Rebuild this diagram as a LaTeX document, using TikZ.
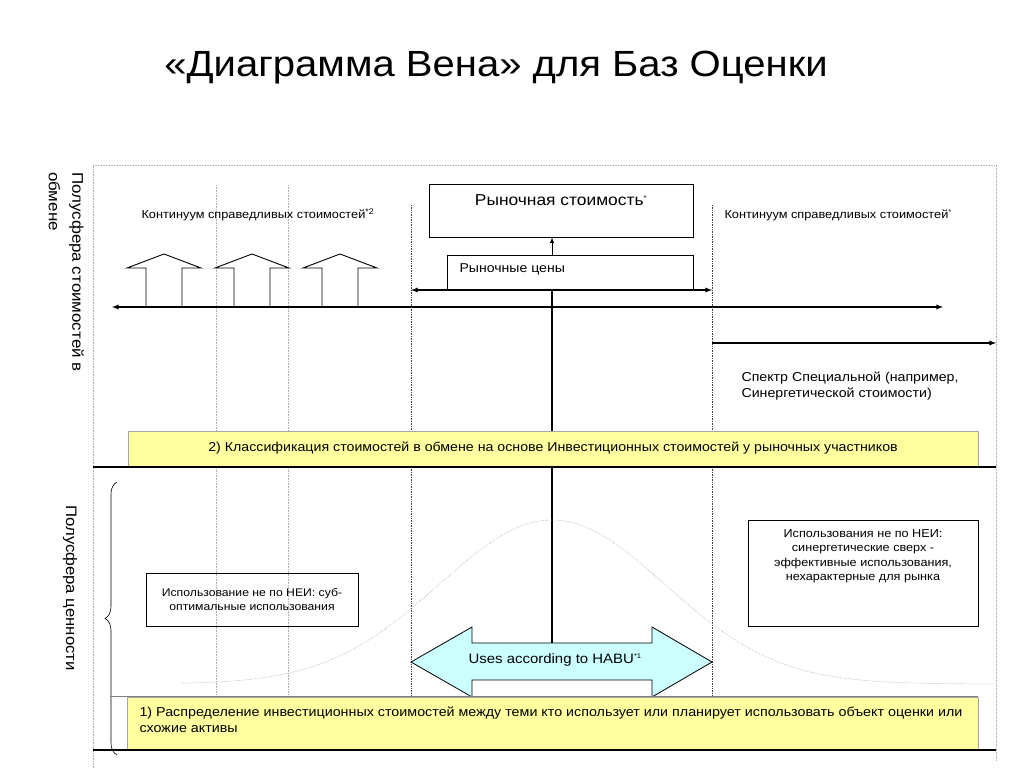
\documentclass[tikz,border=0pt]{standalone}
\usepackage{fontspec}
\setmainfont[FakeStretch=1.1]{Liberation Sans}
\usetikzlibrary{arrows,positioning,calc,decorations.pathreplacing,shapes}

\definecolor{paleyellow}{RGB}{255,255,160}
\definecolor{palecyan}{RGB}{204,255,255}
\definecolor{dotgray}{RGB}{175,175,175}

\newcommand{\fs}[1]{\fontsize{#1}{#1}\selectfont}

\tikzset{
  box/.style={draw, line width=0.8pt, inner sep=0pt},
  ylw/.style={draw=black!35, fill=paleyellow, line width=0.6pt, inner sep=0pt},
  vlight/.style={dotgray, densely dotted, line width=0.6pt},
  vdark/.style={black!75, densely dotted, line width=0.7pt},
  axis/.style={line width=1.3pt},
}

\begin{document}
\begin{tikzpicture}[x=1pt,y=-1pt]
    \useasboundingbox (0,0) rectangle (1024,768);
    \node[font=\fs{36.4}] (title) at (496,68) {«Диаграмма Вена» для Баз Оценки};

    % frame and guide lines
    \draw[vlight] (93,768) -- (93,165) -- (996,165) -- (996,760);
    \draw[vlight] (216,185) -- (216,695);
    \draw[vlight] (288,185) -- (288,695);
    \draw[vdark] (411,205) -- (411,695);
    \draw[vdark] (712,205) -- (712,695);
    \coordinate (cx) at (552,0);

    % side labels
    \node[rotate=-90, anchor=north west, align=left, font=\fs{15.4}, inner sep=0pt] (hemx) at (84,172)
        {Полусфера стоимостей в\\[8pt]обмене};
    \node[rotate=-90, font=\fs{15.2}] (hemv) at (70,588) {Полусфера ценности};
    \draw[decorate, decoration={brace, amplitude=12pt}, line width=0.6pt] (117,755) -- (117,482);

    % market value boxes
    \node[box, minimum width=264pt, minimum height=53pt] (ms) at (561,210.5) {};
    \node[font=\fs{15.8}] (mstext) at (561,200) {Рыночная стоимость\textsuperscript{\scriptsize *}};
    \node[box, minimum width=246pt, minimum height=35pt] (pc) at (570,272.5) {};
    \node[font=\fs{12.8}, anchor=west] (pctext) at (456,269) {Рыночные цены};
    \draw[-latex, line width=0.9pt] (pc.north -| cx) -- (ms.south -| cx);

    % axes
    \coordinate (axL) at (112,307);
    \coordinate (axR) at (943,307);
    \coordinate (mpL) at (411,290);
    \coordinate (mpR) at (712,290);
    \coordinate (spL) at (712,343);
    \coordinate (spR) at (996,343);
    \draw[axis, latex-latex] (axL) -- (axR);
    \draw[axis, latex-latex] (mpL) -- (mpR);
    \draw[axis, -latex] (spL) -- (spR);
    \draw[axis] (pc.south -| cx) -- (552,643);

    % up arrows
    \foreach \c in {164,252,340}
        \draw[line width=0.9pt] ({\c-18},307) -- ({\c-18},268) -- ({\c-37},268) -- (\c,254)
            -- ({\c+37},268) -- ({\c+18},268) -- ({\c+18},307);

    \node[font=\fs{11.6}, anchor=west] (contL) at (138,215) {Континуум справедливых стоимостей\textsuperscript{*2}};
    \node[font=\fs{11.6}, anchor=west] (contR) at (721,215) {Континуум справедливых стоимостей\textsuperscript{\scriptsize *}};
    \node[font=\fs{12.9}, anchor=north west, align=left] (spec) at (738,368)
        {Спектр Специальной (например,\\[3pt]Синергетической стоимости)};

    % band 2
    \node[ylw, minimum width=850pt, minimum height=35pt, font=\fs{12.9}] (band2) at (553,448.5)
        {2) Классификация стоимостей в обмене на основе Инвестиционных стоимостей у рыночных участников};
    \coordinate (hL) at (93,467);
    \coordinate (hR) at (996,467);
    \draw[axis] (hL) -- (hR);

    % value distribution
    \draw[vlight] plot[domain=182:996, samples=120] (\x, {684-164*exp(-0.5*((\x-552)/113)^2)});

    \node[box, minimum width=212pt, minimum height=53pt, align=center, font=\fs{11.1}] (sub) at (252,599.5)
        {Использование не по НЕИ: суб-\\[3pt]оптимальные использования};
    \node[box, minimum width=230pt, minimum height=106pt] (syn) at (863,573) {};
    \node[anchor=north, align=center, font=\fs{11.5}] (syntext) at (863,526)
        {Использования не по НЕИ:\\[3pt]синергетические сверх -\\[3pt]эффективные использования,\\[3pt]нехарактерные для рынка};

    % HABU arrow
    \draw[fill=palecyan, line width=0.8pt] (411,662) -- (472,627) -- (472,643) -- (652,643) -- (652,627)
        -- (712,662) -- (652,697) -- (652,680) -- (472,680) -- (472,697) -- cycle;
    \node[font=\fs{13.6}, anchor=west] (habu) at (465,660) {Uses according to HABU\textsuperscript{\scriptsize *1}};

    % band 1
    \draw[black!50, line width=0.8pt] (110,696) -- (978,696);
    \node[ylw, minimum width=851pt, minimum height=52pt] (band1) at (552.5,723) {};
    \node[anchor=north west, align=left, font=\fs{13}] (band1text) at (136,703)
        {1) Распределение инвестиционных стоимостей между теми кто использует или планирует использовать объект оценки или\\[3pt]схожие активы};
    \coordinate (bL) at (93,750);
    \coordinate (bR) at (996,750);
    \draw[axis] (bL) -- (bR);
\end{tikzpicture}
\end{document}
